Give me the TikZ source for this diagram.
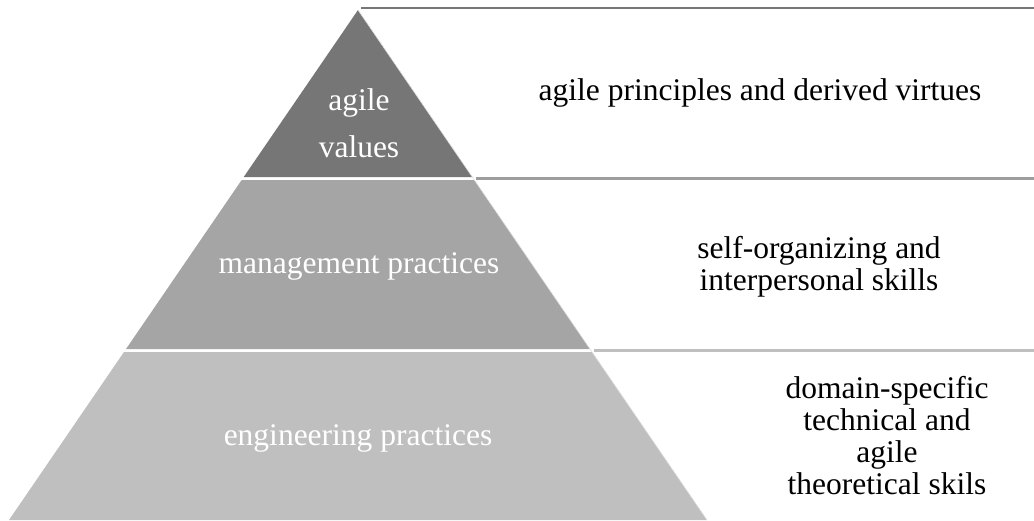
\documentclass[tikz,border=0pt]{standalone}
\usepackage{fontspec}
\setmainfont{Liberation Serif}
\usepackage{tikz}
\usetikzlibrary{positioning}
\definecolor{tiertop}{RGB}{118,118,118}
\definecolor{tiermid}{RGB}{165,165,165}
\definecolor{tierbase}{RGB}{191,191,191}
% one band of the pyramid between two heights (apex at 358,10)
\newcommand{\pyramidband}[3]{%
  \fill[#3] ({358-0.6843*(#1-10)},#1) -- ({358+0.6843*(#1-10)},#1)%
    -- ({358+0.6843*(#2-10)},#2) -- ({358-0.6843*(#2-10)},#2) -- cycle;%
}
\newcommand{\bandrule}[2]{%
  \draw[#2,line width=2.2pt] ({358+0.6843*(#1-10)+3},#1) -- (1034,#1);%
}
\tikzset{
  bandlabel/.style={font=\fontsize{31.5}{32}\selectfont,text=white,inner sep=0pt,align=center},
  sidelabel/.style={font=\fontsize{31.5}{32}\selectfont,text=black,inner sep=0pt,align=center}
}

\begin{document}
\begin{tikzpicture}[x=1pt,y=-1pt]
  \useasboundingbox (0,0) rectangle (1034,520);
  \pyramidband{10}{177}{tiertop}
  \pyramidband{180}{349}{tiermid}
  \pyramidband{352}{520}{tierbase}
  \draw[gray!25,line width=0.6pt] (358,10) -- (707,520);
  \draw[tiertop,line width=2.2pt] (361,8) -- (1034,8);
  \bandrule{178.5}{tiermid!95!black}
  \bandrule{350.5}{tierbase}
  % labels on the bands
  \node[bandlabel,font=\fontsize{31.5}{47}\selectfont] (values) at (359,123) {agile\\values};
  \node[bandlabel,anchor=base] (mgmt) at (359,273) {management practices};
  \node[bandlabel,anchor=base] (eng) at (358,445) {engineering practices};
  % labels beside the bands
  \node[sidelabel,anchor=base] (virtues) at (760,100) {agile principles and derived virtues};
  \node[sidelabel] (skills) at (819,267) {self-organizing and\\interpersonal skills};
  \node[sidelabel] (domain) at (887,436) {domain-specific\\technical and\\agile\\theoretical skils};
\end{tikzpicture}
\end{document}
